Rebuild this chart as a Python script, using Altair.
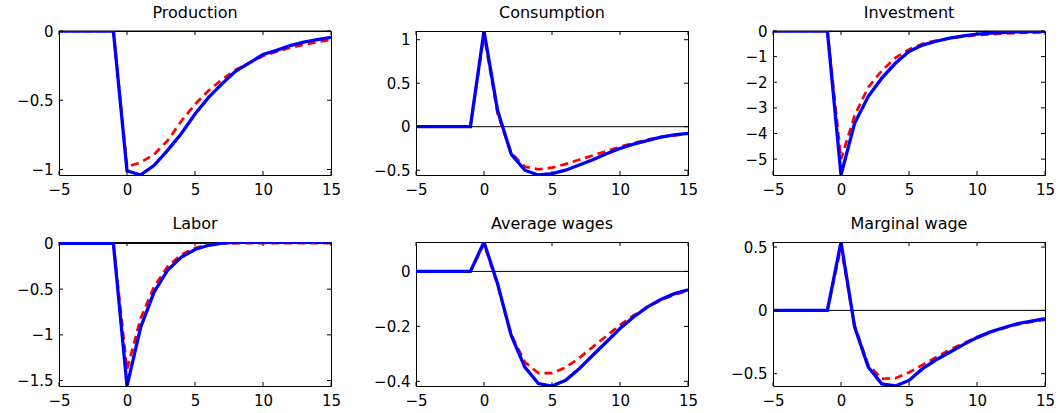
import altair as alt
import pandas as pd

# Impulse responses, horizon -5..15 (shock hits at t = 0)
periods = list(range(-5, 16))
pre = [0, 0, 0, 0, 0]

titles = ["Production", "Consumption", "Investment",
          "Labor", "Average wages", "Marginal wage"]

production_a = pre + [-1.01, -1.04, -0.97, -0.86, -0.74, -0.60, -0.48, -0.38, -0.29, -0.23,
                      -0.17, -0.14, -0.105, -0.08, -0.063, -0.046]
production_b = pre + [-0.98, -0.95, -0.89, -0.79, -0.65, -0.53, -0.43, -0.35, -0.28, -0.23,
                      -0.18, -0.15, -0.12, -0.10, -0.08, -0.062]

consumption_a = pre + [1.10, 0.185, -0.315, -0.50, -0.555, -0.54, -0.50, -0.44, -0.38, -0.31,
                       -0.25, -0.20, -0.16, -0.12, -0.095, -0.077]
consumption_b = pre + [1.06, 0.15, -0.30, -0.46, -0.49, -0.47, -0.43, -0.38, -0.33, -0.28,
                       -0.23, -0.19, -0.15, -0.12, -0.10, -0.08]

investment_a = pre + [-5.62, -3.60, -2.56, -1.84, -1.26, -0.80, -0.55, -0.40, -0.28, -0.19,
                      -0.12, -0.08, -0.05, -0.03, -0.02, -0.01]
investment_b = pre + [-5.00, -3.30, -2.20, -1.55, -1.05, -0.72, -0.50, -0.37, -0.28, -0.22,
                      -0.16, -0.13, -0.10, -0.08, -0.065, -0.05]

labor_a = pre + [-1.56, -0.92, -0.53, -0.29, -0.15, -0.066, -0.02, 0.005, 0.012, 0.015,
                 0.016, 0.016, 0.016, 0.015, 0.015, 0.015]
labor_b = pre + [-1.38, -0.82, -0.47, -0.25, -0.12, -0.05, -0.012, 0.0, 0.002, 0.003,
                 0.003, 0.003, 0.003, 0.003, 0.003, 0.003]

avgwage_a = pre + [0.107, -0.045, -0.233, -0.348, -0.408, -0.417, -0.396, -0.354, -0.305, -0.257,
                   -0.208, -0.166, -0.13, -0.102, -0.081, -0.067]
avgwage_b = pre + [0.10, -0.05, -0.23, -0.33, -0.37, -0.37, -0.35, -0.315, -0.275, -0.235,
                   -0.195, -0.16, -0.13, -0.105, -0.085, -0.07]

margwage_a = pre + [0.54, -0.13, -0.447, -0.58, -0.597, -0.553, -0.46, -0.39, -0.33, -0.27,
                    -0.215, -0.17, -0.135, -0.105, -0.085, -0.066]
margwage_b = pre + [0.50, -0.12, -0.43, -0.54, -0.535, -0.49, -0.43, -0.37, -0.31, -0.26,
                    -0.21, -0.17, -0.14, -0.11, -0.09, -0.075]

series = [
    (production_a, production_b, [-1, -0.5, 0]),
    (consumption_a, consumption_b, [-0.5, 0, 0.5, 1]),
    (investment_a, investment_b, [-5, -4, -3, -2, -1, 0]),
    (labor_a, labor_b, [-1.5, -1, -0.5, 0]),
    (avgwage_a, avgwage_b, [-0.4, -0.2, 0]),
    (margwage_a, margwage_b, [-0.5, 0, 0.5]),
]
x_ticks = [-5, 0, 5, 10, 15]

W, H = 272, 144
TICK = 4
FONT = "DejaVu Sans"


def panel(title, a, b, y_ticks):
    lo = min(a + b)
    hi = max(a + b)
    xs = alt.Scale(domain=[-5, 15], nice=False, zero=False)
    ys = alt.Scale(domain=[lo, hi], nice=False, zero=False)
    df = pd.DataFrame({"t": periods, "a": a, "b": b})
    base = alt.Chart(df)

    # one axis definition shared by every layer so the merged axis keeps its settings
    xa = alt.Axis(values=x_ticks, format="~g", grid=False, domain=False,
                  ticks=False, labelPadding=7, labelOverlap=False, title=None)
    ya = alt.Axis(values=y_ticks, format="~g", grid=False, domain=False,
                  ticks=False, labelPadding=6, labelOverlap=False, title=None)

    line_b = base.mark_line(color="#ff0000", strokeWidth=2.7, strokeDash=[8, 5],
                            clip=True).encode(
        x=alt.X("t:Q", scale=xs, axis=xa),
        y=alt.Y("b:Q", scale=ys, axis=ya),
    )
    line_a = base.mark_line(color="#0000ff", strokeWidth=3.3, clip=True).encode(
        x=alt.X("t:Q", scale=xs, axis=xa),
        y=alt.Y("a:Q", scale=ys, axis=ya),
    )

    zero = alt.Chart(pd.DataFrame({"z": [0]})).mark_rule(
        color="black", strokeWidth=1).encode(y=alt.Y("z:Q", scale=ys, axis=ya))

    # inward-pointing ticks on all four sides of the box
    xt = pd.DataFrame({"v": x_ticks})
    yt = pd.DataFrame({"v": [v for v in y_ticks if lo <= v <= hi]})
    ticks_bottom = alt.Chart(xt).mark_rule(color="black").encode(
        x=alt.X("v:Q", scale=xs, axis=xa), y=alt.value(H), y2=alt.value(H - TICK))
    ticks_top = alt.Chart(xt).mark_rule(color="black").encode(
        x=alt.X("v:Q", scale=xs, axis=xa), y=alt.value(0), y2=alt.value(TICK))
    ticks_left = alt.Chart(yt).mark_rule(color="black").encode(
        y=alt.Y("v:Q", scale=ys, axis=ya), x=alt.value(0), x2=alt.value(TICK))
    ticks_right = alt.Chart(yt).mark_rule(color="black").encode(
        y=alt.Y("v:Q", scale=ys, axis=ya), x=alt.value(W), x2=alt.value(W - TICK))

    # panel heading, placed at a fixed distance above the box
    heading = alt.Chart(pd.DataFrame({"name": [title]})).mark_text(
        font=FONT, fontSize=16, color="black", align="center", baseline="alphabetic"
    ).encode(text="name:N", x=alt.value(W / 2), y=alt.value(-13))

    return alt.layer(
        zero, line_b, line_a, ticks_bottom, ticks_top, ticks_left, ticks_right, heading
    ).properties(width=W, height=H)


charts = [panel(t, a, b, yt) for t, (a, b, yt) in zip(titles, series)]

chart = alt.concat(*charts, columns=3).properties(
    spacing=alt.RowColnumber(row=67, column=85),
    bounds="flush",
    padding={"left": 16, "top": 4, "right": 5, "bottom": 5},
    background="white",
).configure_view(
    stroke="black", strokeWidth=1
).configure_axis(
    labelFont=FONT, labelFontSize=15, labelColor="black"
).configure_axisX(
    labelAlign="center"
)

chart.save("out.html", embed_options={"renderer": "svg", "actions": False})
